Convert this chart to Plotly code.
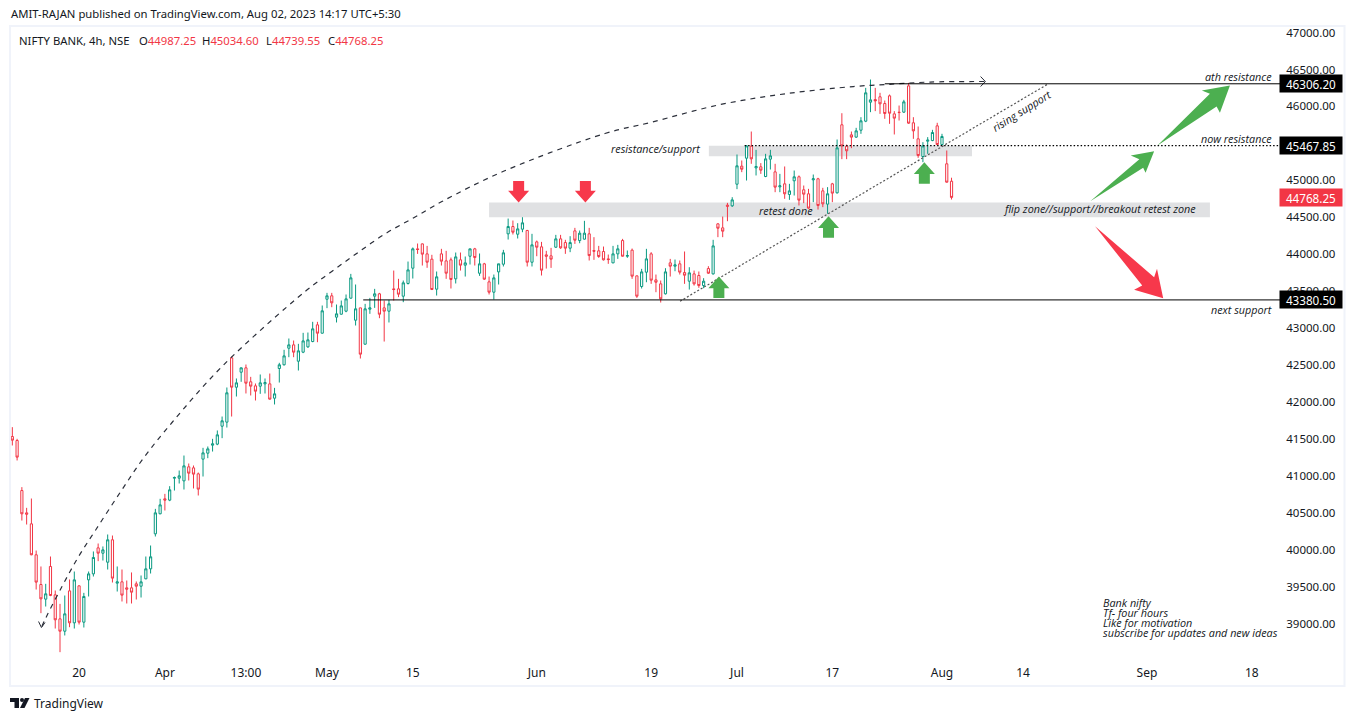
import plotly.graph_objects as go

# NIFTY BANK 4h candles
opens = [41531, 41477, 40800, 40498, 40349, 39930, 39528, 39330, 39772, 39388,
         39063, 38896, 39442, 39009, 39510, 39018, 39591, 39672, 40024, 39952,
         39830, 40133, 39546, 39564, 39483, 39483, 39537, 39505, 39605, 39740,
         40214, 40485, 40688, 40670, 40967, 40967, 40931, 41121, 41107, 41026,
         41225, 41306, 41414, 41428, 41671, 41726, 42596, 42199, 42402, 42461,
         42272, 42217, 42213, 42244, 42244, 42050, 42452, 42502, 42727, 42772,
         42551, 42673, 42745, 42817, 43043, 42930, 43390, 43436, 43147, 43187,
         43228, 43404, 43106, 43273, 42781, 43255, 43431, 43463, 43273, 43228,
         43530, 43530, 43431, 43603, 43810, 44072, 44139, 44004, 43932, 43526,
         44004, 43909, 43923, 43666, 43923, 43851, 43972, 44072, 43742, 43869,
         43625, 43485, 43760, 43864, 44275, 44374, 44270, 44338, 44320, 43891,
         44166, 44099, 43990, 43977, 44094, 44207, 44157, 44081, 44315, 44184,
         44203, 44275, 44049, 44045, 44036, 43936, 43882, 44004, 44184, 43972,
         44054, 43706, 43562, 43756, 44004, 43652, 43598, 43463, 43882, 43837,
         43869, 43751, 43634, 43733, 43711, 43575, 43805, 43733, 44410, 44356,
         44663, 44654, 44947, 45191, 45299, 45462, 45168, 45182, 45051, 45286,
         45114, 44911, 44952, 44808, 44993, 45047, 44871, 44817, 45006, 45020,
         44857, 44677, 44952, 44830, 45751, 45462, 45615, 45584, 45678, 45800,
         46057, 46093, 46130, 46039, 46143, 45899, 45922, 45922, 46278, 45778,
         45561, 45322, 45529, 45538, 45737, 45484, 45223, 44987.25]
highs = [41658, 41500, 40846, 40566, 40692, 39988, 39772, 39537, 39907, 39447,
         39266, 39379, 39596, 39704, 39515, 39415, 39704, 39975, 40083, 40043,
         40205, 40191, 39772, 39731, 39582, 39691, 39569, 39650, 39907, 40056,
         40552, 40688, 40755, 40859, 40990, 41071, 41274, 41166, 41139, 41044,
         41378, 41396, 41500, 41613, 41802, 42195, 42614, 42317, 42466, 42506,
         42339, 42249, 42371, 42317, 42384, 42190, 42529, 42705, 42858, 42831,
         42786, 42935, 42939, 43084, 43084, 43305, 43476, 43476, 43318, 43372,
         43454, 43733, 43589, 43273, 43327, 43408, 43530, 43476, 43372, 43381,
         43778, 43666, 43643, 43900, 44090, 44144, 44144, 44112, 43991, 43765,
         44072, 44045, 43954, 44022, 44022, 43968, 44072, 44085, 44009, 43882,
         43697, 43724, 43869, 44058, 44482, 44455, 44419, 44500, 44329, 44275,
         44184, 44166, 44045, 44085, 44261, 44261, 44194, 44243, 44356, 44320,
         44451, 44356, 44230, 44112, 44103, 43995, 44112, 44126, 44207, 44049,
         44076, 43711, 43801, 44072, 44027, 43724, 43643, 43810, 43936, 43927,
         43914, 44036, 43823, 43778, 43765, 43675, 43837, 44194, 44419, 44509,
         44694, 44771, 45349, 45268, 45475, 45660, 45412, 45232, 45358, 45412,
         45223, 45087, 45187, 44952, 45132, 45065, 44929, 44884, 45078, 45033,
         44898, 44907, 44965, 45552, 45908, 45484, 45660, 45710, 45854, 46251,
         46364, 46251, 46184, 46080, 46161, 45936, 46012, 46089, 46319, 45854,
         45728, 45516, 45584, 45683, 45778, 45629, 45403, 45034.6]
lows = [41410, 41207, 40394, 40340, 39925, 39460, 39140, 39230, 39370, 38932,
        38612, 38838, 38950, 38932, 38987, 38946, 39366, 39636, 39844, 39853,
        39731, 39555, 39433, 39298, 39271, 39271, 39325, 39352, 39600, 39677,
        40178, 40480, 40530, 40656, 40800, 40895, 40814, 40936, 40828, 40733,
        40990, 41238, 41328, 41414, 41509, 41653, 41802, 42073, 42272, 42114,
        42087, 42019, 42109, 42114, 42032, 41965, 42262, 42493, 42605, 42605,
        42425, 42660, 42732, 42808, 42808, 42926, 43269, 43282, 43075, 43183,
        43214, 43399, 43034, 42587, 42777, 43192, 43273, 43133, 42817, 43075,
        43372, 43418, 43350, 43589, 43670, 44004, 43846, 43815, 43517, 43440,
        43846, 43666, 43535, 43603, 43778, 43697, 43860, 43846, 43706, 43652,
        43454, 43386, 43589, 43833, 44198, 44266, 44212, 44297, 43833, 43833,
        43972, 43711, 43805, 43814, 44085, 44072, 44004, 44027, 44139, 44148,
        44198, 43914, 43923, 43950, 43914, 43869, 43878, 43936, 43968, 43950,
        43666, 43408, 43535, 43620, 43598, 43485, 43345, 43454, 43697, 43769,
        43724, 43598, 43521, 43575, 43544, 43539, 43733, 43724, 44230, 44230,
        44446, 44640, 44880, 45110, 44997, 45223, 45065, 45087, 45042, 45146,
        44839, 44839, 44749, 44735, 44794, 44659, 44690, 44614, 44704, 44604,
        44636, 44546, 44704, 44821, 45286, 45286, 45435, 45575, 45629, 45787,
        45922, 45936, 45899, 45832, 45764, 45620, 45809, 45913, 45764, 45561,
        45304, 45245, 45358, 45529, 45475, 45475, 44970, 44739.55]
closes = [41482, 41252, 40485, 40480, 39930, 39560, 39334, 39402, 39379, 39050,
          38896, 39131, 39009, 39591, 39018, 39366, 39672, 39894, 39952, 39997,
          40133, 39614, 39564, 39384, 39465, 39424, 39505, 39564, 39740, 39903,
          40498, 40606, 40670, 40810, 40976, 40999, 41134, 41035, 41022, 40819,
          41310, 41364, 41432, 41554, 41744, 42123, 42199, 42258, 42461, 42253,
          42213, 42145, 42258, 42262, 42037, 42109, 42502, 42623, 42772, 42673,
          42691, 42826, 42840, 42989, 42930, 43233, 43436, 43341, 43192, 43300,
          43395, 43679, 43260, 42646, 43260, 43273, 43463, 43187, 43228, 43327,
          43521, 43458, 43612, 43787, 44072, 44063, 44000, 43891, 43521, 43693,
          43905, 43742, 43657, 43963, 43851, 43882, 44072, 43954, 43869, 43661,
          43485, 43679, 43869, 44018, 44374, 44297, 44342, 44424, 43891, 44126,
          44094, 43783, 43972, 43932, 44207, 44085, 44081, 44157, 44189, 44284,
          44284, 43981, 44040, 43968, 43923, 43927, 44004, 44072, 43972, 43981,
          43702, 43431, 43760, 43936, 43648, 43620, 43395, 43760, 43837, 43855,
          43756, 43715, 43747, 43598, 43575, 43634, 43742, 44112, 44351, 44311,
          44649, 44735, 45196, 45150, 45466, 45290, 45187, 45137, 45290, 45331,
          44907, 44925, 44817, 44857, 45047, 44731, 44812, 44623, 45020, 44659,
          44681, 44817, 44826, 45439, 45466, 45399, 45584, 45669, 45805, 46184,
          46089, 46075, 46035, 45904, 45908, 45841, 45917, 46062, 45773, 45669,
          45335, 45466, 45543, 45647, 45484, 45593, 44974, 44768.25]
bars = list(range(len(closes)))

time_ticks = [14, 32, 49, 66, 84, 110, 134, 152, 172, 195, 212, 238, 260]
time_labels = ["20", "Apr", "13:00", "May", "15", "Jun", "19", "Jul", "17", "Aug", "14", "Sep", "18"]
# 45500 sits under the 45467.85 tag in the picture, so it is left out
price_ticks = [39000, 39500, 40000, 40500, 41000, 41500, 42000, 42500, 43000, 43500, 44000, 44500, 45000,
               46000, 46500, 47000]

ath_level = 46306.20
now_level = 45467.85
support_level = 43380.50
last_close = 44768.25

# hand drawn arc on the chart
arc_bars = [6.2, 7.06, 10.42, 13.78, 17.55, 22.6, 27.6, 33.5, 44.2, 61.4, 67.0, 72.5, 78.3, 84.3, 90.1,
            102.9, 124.3, 133.8, 148.5, 162.5, 176.4, 183.1, 192.5, 204.1]
arc_prices = [38960, 39081, 39501, 39894, 40273, 40773, 41247, 41721, 42493, 43494, 43765, 44022, 44279, 44496, 44712,
              45118, 45633, 45782, 46025, 46174, 46269, 46296, 46330, 46337]

RED = "#f23645"
GREEN = "#089981"
ARROW_RED = "#f7384b"
ARROW_GREEN = "#4caf50"
TEXT = "#131722"
FONT = "Noto Sans"
NOTE_FONT = "Open Sans"

W, H = 1355, 721
LEFT, RIGHT, TOP, BOTTOM = 11, 1280, 27, 660
PX_PER_BAR = 4.767
PRICE_PER_PX = 13.536


def paper_x(px):
    return (px - LEFT) / (RIGHT - LEFT)


def paper_y(py):
    return (BOTTOM - py) / (BOTTOM - TOP)


def block_arrow(bar, tip, sign, clr):
    # sign 1 points up, -1 points down; sizes are in screen pixels
    dx_head = 10.5 / PX_PER_BAR
    dx_shaft = 5.5 / PX_PER_BAR
    head = 11.7 * PRICE_PER_PX * sign
    total = 21.5 * PRICE_PER_PX * sign
    x0 = [bar, bar + dx_head, bar + dx_shaft, bar + dx_shaft, bar - dx_shaft, bar - dx_shaft, bar - dx_head, bar]
    y0 = [tip, tip - head, tip - head, tip - total, tip - total, tip - head, tip - head, tip]
    return polygon(x0, y0, clr)


def polygon(x0, y0, clr):
    return go.Scatter(x=x0, y=y0, mode="lines", line=dict(width=0, color=clr), fill="toself",
                      fillcolor=clr, hoverinfo="skip", showlegend=False)


def note(bar, price, txt, xancr="center", angle=0):
    return dict(x=bar, y=price, text=txt, showarrow=False, xanchor=xancr, yanchor="middle", textangle=angle,
                borderpad=0, font=dict(family=NOTE_FONT, size=10.8, color=TEXT, style="italic"))


def tag(price, txt, clr):
    return dict(xref="paper", x=1, xanchor="left", xshift=-1, y=price, yanchor="middle", text=txt, showarrow=False,
                bgcolor=clr, width=60, height=15, borderpad=1, align="center",
                font=dict(family=FONT, size=11.7, color="white"))


def header(px, py, txt, size=11.3):
    return dict(xref="paper", yref="paper", x=paper_x(px), y=paper_y(py), xanchor="left", yanchor="middle",
                text=txt, showarrow=False, borderpad=0, font=dict(family=FONT, size=size, color=TEXT))


def red_value(letter, value):
    return letter + '<span style="color:%s">%s</span>' % (RED, value)


traces = [go.Candlestick(x=bars, open=opens, high=highs, low=lows, close=closes,
                         increasing=dict(line=dict(color=GREEN, width=1), fillcolor="white"),
                         decreasing=dict(line=dict(color=RED, width=1), fillcolor="white"),
                         whiskerwidth=0, hoverinfo="skip", showlegend=False)]

traces.append(go.Scatter(x=arc_bars, y=arc_prices, mode="lines", hoverinfo="skip", showlegend=False,
                         line=dict(color="#2a2e39", width=1.2, dash="5px,5px", shape="spline")))
# small chevrons at both ends of the arc
traces.append(go.Scatter(x=[203.1, 204.1, 203.1], y=[46404, 46337, 46269], mode="lines", hoverinfo="skip",
                         showlegend=False, line=dict(color="#2a2e39", width=1)))
traces.append(go.Scatter(x=[5.5, 6.1, 6.86], y=[39027, 38946, 39013], mode="lines", hoverinfo="skip",
                         showlegend=False, line=dict(color="#2a2e39", width=1)))
# rising support
traces.append(go.Scatter(x=[140.06, 217.3], y=[43363, ath_level], mode="lines", hoverinfo="skip", showlegend=False,
                         line=dict(color="#555555", width=1.2, dash="2px,2px")))

for bar, tip in [(106.2, 44699), (120.2, 44699)]:
    traces.append(block_arrow(bar, tip, -1, ARROW_RED))
for bar, tip in [(148.2, 43697), (171.2, 44513), (191.3, 45244)]:
    traces.append(block_arrow(bar, tip, 1, ARROW_GREEN))

traces.append(polygon([240.2, 251.2, 249.5, 255.4, 253.3, 252.6, 240.2],
                      [45470, 46170, 46215, 46283, 45913, 45998, 45470], ARROW_GREEN))
traces.append(polygon([226.1, 236.4, 234.6, 239.5, 237.7, 237.2, 226.1],
                      [44716, 45285, 45335, 45393, 45101, 45169, 44716], ARROW_GREEN))
traces.append(polygon([227.1, 239.5, 240.1, 241.4, 235.3, 237.0, 227.1],
                      [44378, 43688, 43801, 43403, 43517, 43575, 44378], ARROW_RED))

fig = go.Figure(data=traces)

shapes = [
    # outer frame
    dict(type="rect", xref="paper", yref="paper", x0=paper_x(10), x1=paper_x(1344.5), y0=paper_y(686), y1=paper_y(26),
         line=dict(color="#f0f3fa", width=2), layer="below"),
    # grey zones
    dict(type="rect", x0=100.0, x1=251.2, y0=44500, y1=44699, fillcolor="#e0e1e3", line_width=0, layer="below"),
    dict(type="rect", x0=146.1, x1=201.3, y0=45326, y1=45466, fillcolor="#e0e1e3", line_width=0, layer="below"),
    # levels
    dict(type="line", xref="x", x0=183.0, x1=265.9, y0=ath_level, y1=ath_level, line=dict(color="black", width=1)),
    dict(type="line", xref="x", x0=73.6, x1=265.9, y0=support_level, y1=support_level, line=dict(color="black", width=1)),
    dict(type="line", xref="x", x0=153.6, x1=265.9, y0=now_level, y1=now_level,
         line=dict(color="black", width=1.2, dash="1.5px,2px")),
    # TradingView mark
    dict(type="path", xref="paper", yref="paper", fillcolor=TEXT, line_width=0,
         path="M %f %f L %f %f L %f %f L %f %f L %f %f L %f %f Z" % (
             paper_x(10), paper_y(698), paper_x(19), paper_y(698), paper_x(19), paper_y(708),
             paper_x(14.5), paper_y(708), paper_x(14.5), paper_y(702), paper_x(10), paper_y(702))),
    dict(type="circle", xref="paper", yref="paper", fillcolor=TEXT, line_width=0,
         x0=paper_x(20), x1=paper_x(24), y0=paper_y(702), y1=paper_y(698)),
    dict(type="path", xref="paper", yref="paper", fillcolor=TEXT, line_width=0,
         path="M %f %f L %f %f L %f %f L %f %f Z" % (
             paper_x(25), paper_y(698), paper_x(29.5), paper_y(698), paper_x(24.5), paper_y(708),
             paper_x(20), paper_y(708))),
]

annotations = [
    note(135.0, 45430, "resistance/support"),
    note(162.3, 44591, "retest done"),
    note(228.1, 44618, "flip zone//support//breakout retest zone"),
    note(264.5, 46408, "ath resistance", "right"),
    note(264.5, 45569, "now resistance", "right"),
    note(264.5, 43251, "next support", "right"),
    note(211.7, 45944, "rising support", angle=-32),
    note(228.6, 39289, "Bank nifty", "left"),
    note(228.6, 39149, "Tf- four hours", "left"),
    note(228.6, 39014, "Like for motivation", "left"),
    note(228.6, 38878, "subscribe for updates and new ideas", "left"),
    tag(ath_level, "46306.20", "black"),
    tag(now_level, "45467.85", "black"),
    tag(support_level, "43380.50", "black"),
    tag(last_close, "44768.25", RED),
    header(10, 14, "AMIT-RAJAN published on TradingView.com, Aug 02, 2023 14:17 UTC+5:30"),
    header(18, 41, "NIFTY BANK, 4h, NSE"),
    header(138, 41, red_value("O", "44987.25")),
    header(201, 41, red_value("H", "45034.60")),
    header(265, 41, red_value("L", "44739.55")),
    header(327, 41, red_value("C", "44768.25")),
    header(33, 703, "TradingView", size=12),
]

fig.update_layout(
    width=W, height=H, autosize=False,
    margin=dict(l=LEFT, r=W - RIGHT, t=TOP, b=H - BOTTOM, pad=0),
    paper_bgcolor="white", plot_bgcolor="white", showlegend=False, hovermode=False,
    boxgap=0.35, shapes=shapes, annotations=annotations,
    font=dict(family=FONT, size=12, color=TEXT),
)
fig.update_xaxes(range=[-0.28, 265.9], tickmode="array", tickvals=time_ticks, ticktext=time_labels,
                 showgrid=False, zeroline=False, showline=False, rangeslider_visible=False,
                 ticks="outside", ticklen=2, tickcolor="rgba(0,0,0,0)", tickangle=0,
                 tickfont=dict(family=FONT, size=12, color=TEXT))
fig.update_yaxes(range=[38506, 47075], side="right", tickmode="array", tickvals=price_ticks,
                 ticktext=["%.2f" % p for p in price_ticks], showgrid=False, zeroline=False, showline=False,
                 ticks="outside", ticklen=3, tickcolor="rgba(0,0,0,0)",
                 tickfont=dict(family=FONT, size=11.5, color=TEXT))

fig.write_html("out.html", post_script="document.body.style.margin='0';", config={"displayModeBar": False})
